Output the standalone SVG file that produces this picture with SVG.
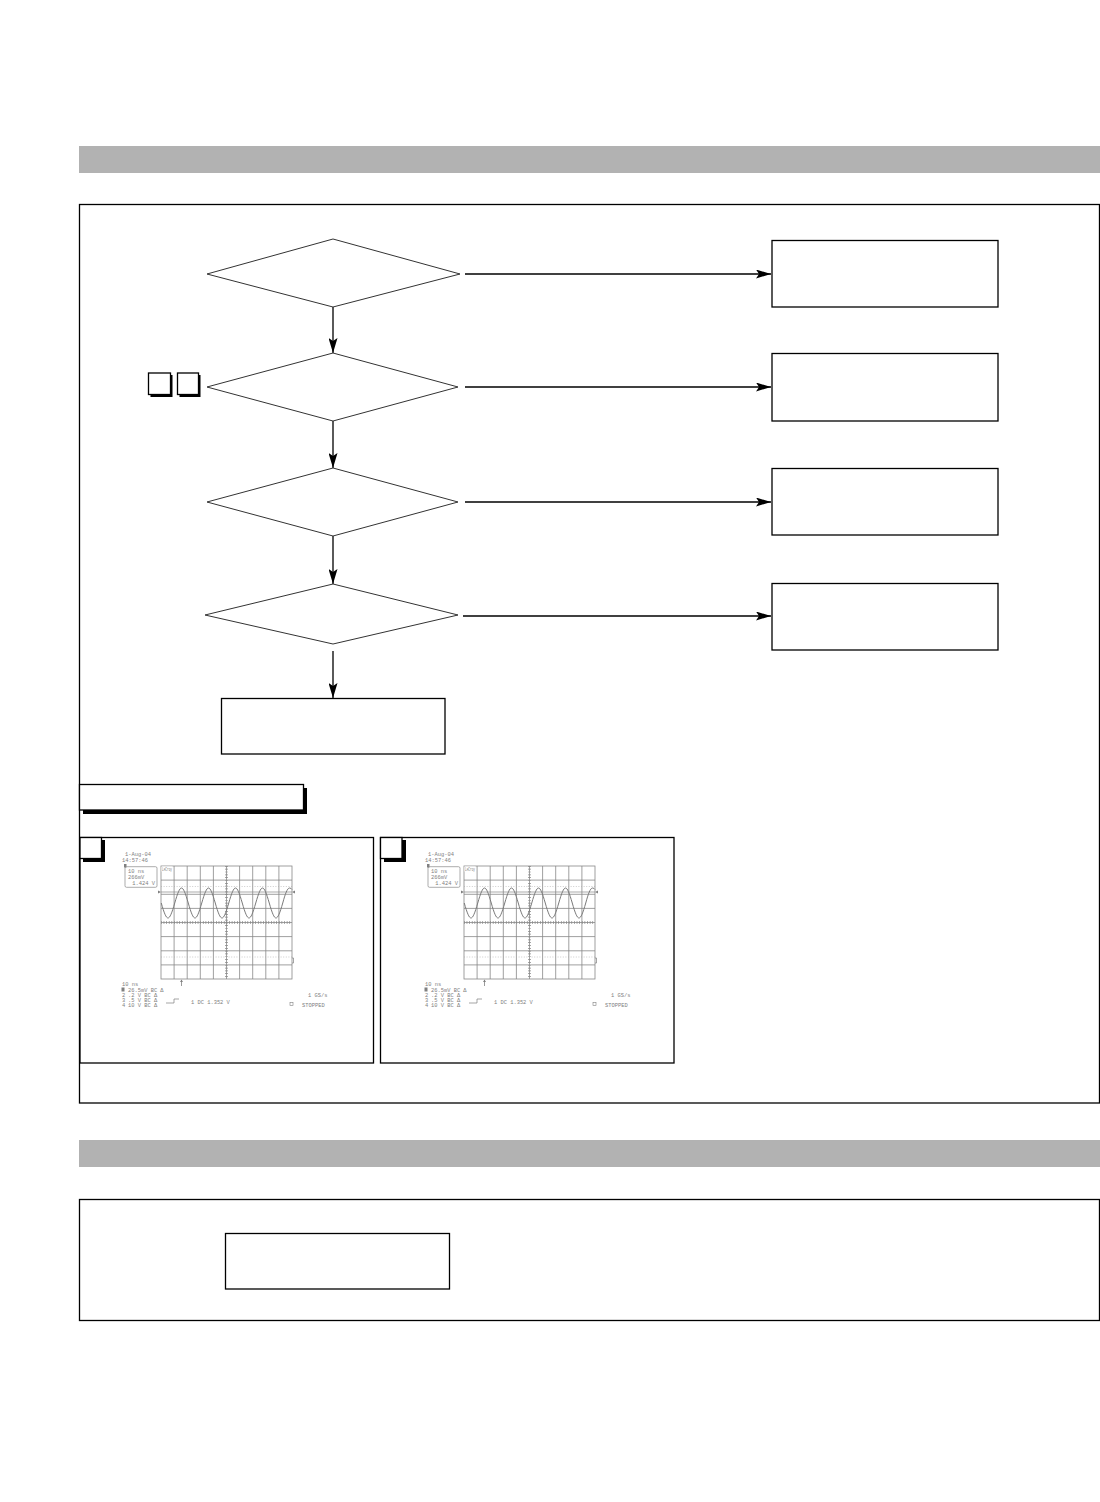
<svg xmlns="http://www.w3.org/2000/svg" xmlns:xlink="http://www.w3.org/1999/xlink" width="1100" height="1502" viewBox="0 0 1100 1502">
<style>
.bar{fill:#b2b2b2}
.frame{fill:none;stroke:#000;stroke-width:1.3}
.box{fill:#fff;stroke:#000;stroke-width:1.3}
.dia{fill:#fff;stroke:#333;stroke-width:1}
.conn{fill:none;stroke:#000;stroke-width:1.3}
.shadow{fill:#000}
.grid{fill:none;stroke:#888;stroke-width:0.8}
.st{font-family:"Liberation Mono",monospace;font-size:5.4px;fill:#808080}
.wave{fill:none;stroke:#7a7a7a;stroke-width:1}
</style>
<defs>
<marker id="arr" viewBox="0 0 15 9" refX="15" refY="4.5" markerWidth="15" markerHeight="9" markerUnits="userSpaceOnUse" orient="auto">
<path d="M0,0 L15,4.5 L0,9 L3,4.5 z" fill="#000"/>
</marker>
<g id="scopeShot">
<text class="st" x="125" y="856">1-Aug-04</text>
<text class="st" x="122" y="862">14:57:46</text>
<rect x="124" y="864" width="2.5" height="3.5" fill="#808080"/>
<rect x="125" y="866.7" width="32" height="20.6" rx="1.5" fill="none" stroke="#888" stroke-width="0.7"/>
<text class="st" x="128" y="873">10 ns</text>
<text class="st" x="128" y="878.5">266mV</text>
<text class="st" x="155" y="884.5" text-anchor="end">1.424 V</text>
<g class="grid">
<rect x="161" y="866" width="131" height="113"/>
<path d="M174.1,866V979M187.2,866V979M200.3,866V979M213.4,866V979M239.6,866V979M252.7,866V979M265.8,866V979M278.9,866V979M226.5,866V979"/>
<path d="M161,880.1H292M161,894.3H292M161,908.4H292M161,936.6H292M161,950.8H292M161,964.9H292M161,922.5H292"/>
</g>
<line x1="226.5" y1="866" x2="226.5" y2="979" stroke="#888" stroke-width="3" stroke-dasharray="0.7 2.125"/>
<line x1="161" y1="922.5" x2="292" y2="922.5" stroke="#888" stroke-width="3" stroke-dasharray="0.7 1.92"/>
<line x1="161" y1="886.5" x2="292" y2="886.5" stroke="#aaa" stroke-width="0.6" stroke-dasharray="1 1.6"/>
<line x1="161" y1="957" x2="292" y2="957" stroke="#aaa" stroke-width="0.6" stroke-dasharray="1 1.6"/>
<line x1="161" y1="892" x2="292" y2="892" stroke="#888" stroke-width="0.7"/>
<path d="M158,890.5 L161,892 L158,893.5 z M295,890.5 L292,892 L295,893.5 z" fill="#808080"/>
<rect x="161.5" y="866.5" width="11" height="5" fill="#fff"/>
<text class="st" x="162" y="871" font-size="4.5" textLength="10" lengthAdjust="spacingAndGlyphs">LeCroy</text>
<path class="wave" d="M161.25,903 C166.98,923 169.02,923 174.75,903 C180.48,883 182.52,883 188.25,903 C193.98,923 196.02,923 201.75,903 C207.48,883 209.52,883 215.25,903 C220.98,923 223.02,923 228.75,903 C234.48,883 236.52,883 242.25,903 C247.98,923 250.02,923 255.75,903 C261.48,883 263.52,883 269.25,903 C274.98,923 277.02,923 282.75,903 C285.2,894 287.3,888 289.5,888 Q291,888 292,889.5"/>
<path d="M292,958 h1.5 v5 h-1.5" fill="none" stroke="#808080" stroke-width="0.7"/>
<line x1="181.5" y1="980" x2="181.5" y2="986" stroke="#808080" stroke-width="0.8"/>
<path d="M180,982 L181.5,979.5 L183,982 z" fill="#808080"/>
<text class="st" x="122" y="986">10 ns</text>
<rect x="121.5" y="987.5" width="3" height="4" fill="#808080"/>
<text class="st" x="128" y="991.5">26.5mV BC Δ</text>
<text class="st" x="122" y="996.5">2</text>
<text class="st" x="128" y="996.5">.2  V  BC Δ</text>
<text class="st" x="122" y="1001.5">3</text>
<text class="st" x="128" y="1001.5">.5  V  BC Δ</text>
<text class="st" x="122" y="1006.5">4</text>
<text class="st" x="128" y="1006.5">10  V  BC Δ</text>
<polyline points="166,1003 174,1003 174,999 179,999" fill="none" stroke="#808080" stroke-width="0.7"/>
<text class="st" x="191" y="1004">1 DC 1.352 V</text>
<text class="st" x="308" y="997">1 GS/s</text>
<rect x="290" y="1002.5" width="3" height="3" fill="none" stroke="#808080" stroke-width="0.6"/>
<text class="st" x="302" y="1006.5">STOPPED</text>
</g>
</defs>

<g id="header-bar-1"><rect class="bar" x="79" y="146" width="1021" height="27"/></g>
<g id="header-bar-2"><rect class="bar" x="79" y="1140" width="1021" height="27"/></g>

<g id="frame-1"><rect class="frame" x="79.5" y="204.5" width="1020" height="898.5"/></g>
<g id="frame-2"><rect class="frame" x="79.5" y="1199.5" width="1020" height="121"/></g>

<g id="connectors">
<line class="conn" x1="465" y1="274" x2="771" y2="274" marker-end="url(#arr)"/>
<line class="conn" x1="465" y1="387" x2="771" y2="387" marker-end="url(#arr)"/>
<line class="conn" x1="465" y1="502" x2="771" y2="502" marker-end="url(#arr)"/>
<line class="conn" x1="463" y1="616" x2="771" y2="616" marker-end="url(#arr)"/>
<line class="conn" x1="333" y1="307" x2="333" y2="353" marker-end="url(#arr)"/>
<line class="conn" x1="333" y1="421" x2="333" y2="468" marker-end="url(#arr)"/>
<line class="conn" x1="333" y1="536" x2="333" y2="584" marker-end="url(#arr)"/>
<line class="conn" x1="333" y1="651" x2="333" y2="698" marker-end="url(#arr)"/>
</g>

<g id="decision-1"><polygon class="dia" points="333,239 460,274 333,307 207,274"/></g>
<g id="decision-2"><polygon class="dia" points="333,353 458,387 333,421 207,387"/></g>
<g id="decision-3"><polygon class="dia" points="333,468 458,502 333,536 207,502"/></g>
<g id="decision-4"><polygon class="dia" points="333,584 458,615 333,644 205,615"/></g>

<g id="result-1"><rect class="box" x="772" y="240.5" width="226" height="66.5"/></g>
<g id="result-2"><rect class="box" x="772" y="353.5" width="226" height="67.5"/></g>
<g id="result-3"><rect class="box" x="772" y="468.5" width="226" height="66.5"/></g>
<g id="result-4"><rect class="box" x="772" y="583.5" width="226" height="66.5"/></g>
<g id="result-5"><rect class="box" x="221.5" y="698.5" width="223.5" height="55.5"/></g>

<g id="ref-marks">
<rect class="shadow" x="150.5" y="375" width="22" height="22"/>
<rect class="box" x="148.5" y="373" width="22" height="21.5" stroke-width="1"/>
<rect class="shadow" x="179.5" y="375" width="21" height="22"/>
<rect class="box" x="177.5" y="373" width="21" height="21.5" stroke-width="1"/>
</g>

<g id="waveform-title">
<rect class="shadow" x="83" y="788" width="224" height="26"/>
<rect class="box" x="79.5" y="784.5" width="224" height="25.5"/>
</g>

<g id="waveform-1">
<rect class="box" x="80" y="837.5" width="293.5" height="225.5"/>
<rect class="shadow" x="83" y="840" width="22" height="22"/>
<rect class="box" x="80" y="837.5" width="21.5" height="21" stroke-width="1"/>
<use xlink:href="#scopeShot"/>
</g>

<g id="waveform-2">
<rect class="box" x="380.5" y="837.5" width="293.5" height="225.5"/>
<rect class="shadow" x="384" y="840" width="22" height="22"/>
<rect class="box" x="380.5" y="837.5" width="21.5" height="21" stroke-width="1"/>
<use xlink:href="#scopeShot" transform="translate(303,0)"/>
</g>

<g id="bottom-box"><rect class="box" x="225.5" y="1233.5" width="224" height="55.5"/></g>
</svg>
